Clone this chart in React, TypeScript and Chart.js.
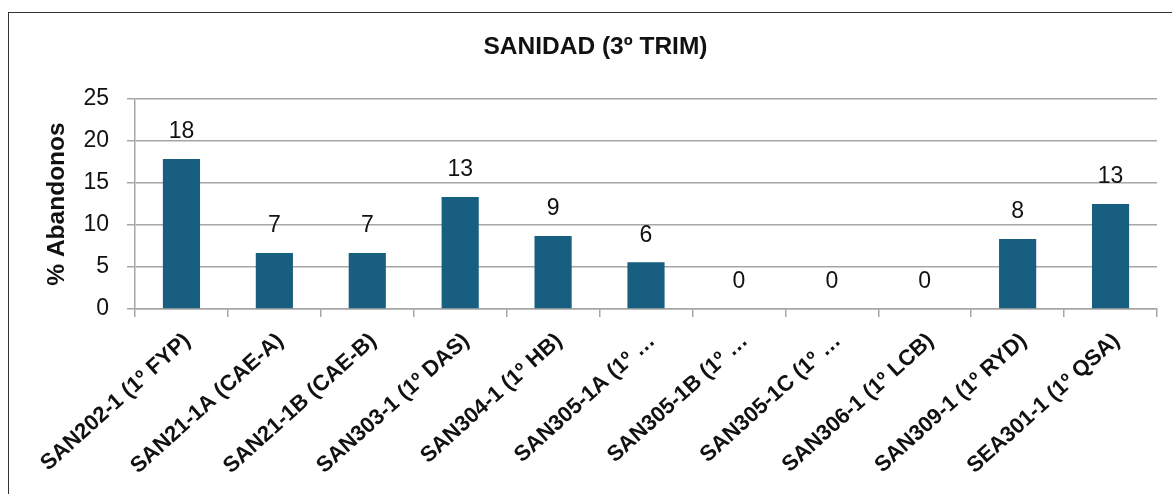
import React, { useEffect, useRef } from "react";
import { Chart, registerables } from "chart.js";

Chart.register(...registerables);

const titleText = "SANIDAD (3º TRIM)";
const yAxisTitle = "% Abandonos";
const categories = [
  "SAN202-1 (1º FYP)",
  "SAN21-1A (CAE-A)",
  "SAN21-1B (CAE-B)",
  "SAN303-1 (1º DAS)",
  "SAN304-1 (1º HB)",
  "SAN305-1A (1º …",
  "SAN305-1B (1º …",
  "SAN305-1C (1º …",
  "SAN306-1 (1º LCB)",
  "SAN309-1 (1º RYD)",
  "SEA301-1 (1º QSA)",
];
const abandonos = [17.86, 6.67, 6.67, 13.33, 8.7, 5.56, 0, 0, 0, 8.33, 12.5];
const yTicks = [0, 5, 10, 15, 20, 25];

const FONT = "'Liberation Sans', Arial, sans-serif";

const valueLabels = {
  id: "valueLabels",
  afterDatasetsDraw(chart: any) {
    const ctx = chart.ctx;
    const meta = chart.getDatasetMeta(0);
    ctx.save();
    ctx.font = `23px ${FONT}`;
    ctx.fillStyle = "#111";
    ctx.textAlign = "center";
    ctx.textBaseline = "middle";
    meta.data.forEach((bar: any, i: number) => {
      const v = chart.data.datasets[0].data[i];
      ctx.fillText(String(Math.round(v)), bar.x, bar.y - 27);
    });
    ctx.restore();
  },
};

export default function App() {
  const ref = useRef<HTMLCanvasElement>(null);
  useEffect(() => {
    document.documentElement.style.overflow = "hidden";
    document.body.style.overflow = "hidden";
    const chart = new Chart(ref.current!, {
      type: "bar",
      data: {
        labels: categories,
        datasets: [
          {
            data: abandonos,
            backgroundColor: "#185E81",
            borderWidth: 0,
            barPercentage: 0.4,
            categoryPercentage: 1,
          },
        ],
      },
      options: {
        animation: false,
        responsive: false,
        maintainAspectRatio: false,
        layout: { padding: { left: 34, right: 15, top: 0, bottom: 0 } },
        plugins: {
          legend: { display: false },
          tooltip: { enabled: false },
          title: {
            display: true,
            text: titleText,
            color: "#111",
            font: { family: FONT, size: 24.5, weight: "bold" },
            padding: { top: 33, bottom: 36.6 },
          },
        },
        scales: {
          x: {
            grid: {
              offset: true,
              drawOnChartArea: false,
              drawTicks: true,
              tickLength: 8,
              color: "#a6a6a6",
              lineWidth: 1.5,
            },
            border: { color: "#a6a6a6", width: 1.5 },
            ticks: {
              autoSkip: false,
              maxRotation: 42,
              minRotation: 42,
              padding: 11,
              labelOffset: 6,
              color: "#111",
              font: { family: FONT, size: 22, weight: "bold" },
            },
            afterFit(scale: any) {
              scale.height = 185;
              scale.paddingLeft = 0;
              scale.paddingRight = 0;
            },
          },
          y: {
            min: 0,
            max: 25,
            afterBuildTicks(scale: any) {
              scale.ticks = yTicks.map((v) => ({ value: v }));
            },
            grid: {
              color: "#a6a6a6",
              lineWidth: 1.5,
              tickLength: 8,
            },
            border: { color: "#a6a6a6", width: 1.5 },
            ticks: {
              padding: 18,
              color: "#111",
              font: { family: FONT, size: 23 },
            },
            title: {
              display: true,
              text: yAxisTitle,
              color: "#111",
              font: { family: FONT, size: 24.5, weight: "bold" },
              padding: { top: 9, bottom: 0 },
            },
            afterFit(scale: any) {
              scale.width = 101;
              scale.paddingTop = 0;
              scale.paddingBottom = 0;
            },
          },
        },
      },
      plugins: [valueLabels],
    });
    return () => chart.destroy();
  }, []);

  return (
    <>
      <canvas
        ref={ref}
        width={1172}
        height={494}
        style={{ position: "fixed", left: 0, top: 0, width: 1172, height: 494 }}
      />
      <div
        style={{
          position: "fixed",
          left: 8,
          top: 12,
          width: 1300,
          height: 700,
          border: "1.5px solid #333",
          pointerEvents: "none",
        }}
      />
    </>
  );
}
